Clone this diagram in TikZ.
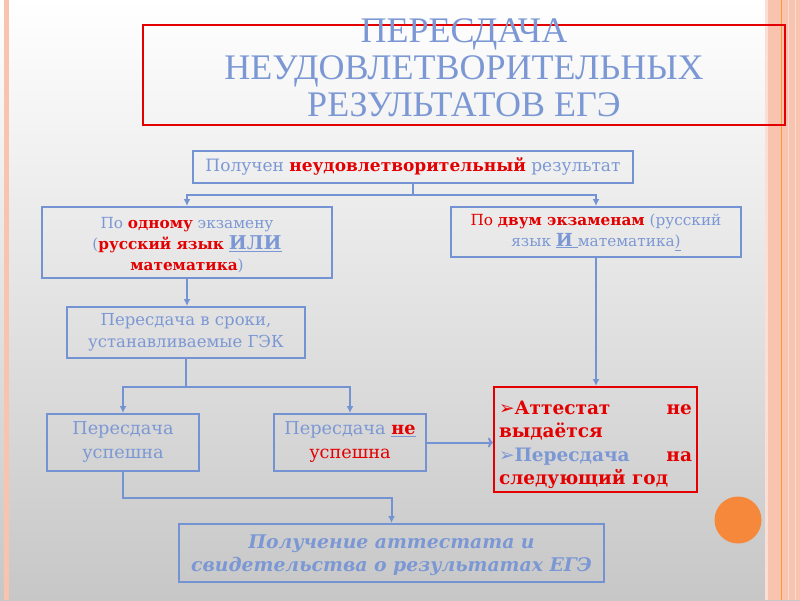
\documentclass[tikz,border=0pt]{standalone}
\usepackage{fontspec}
\setmainfont{DejaVu Serif}
\newfontfamily\headfont{Liberation Serif}
\newfontfamily\symfont{DejaVu Sans}
\usetikzlibrary{arrows.meta,calc}
\definecolor{boxblue}{RGB}{116,147,210}
\definecolor{txtblue}{RGB}{124,152,212}
\definecolor{hotred}{RGB}{228,0,0}
\definecolor{stripe}{RGB}{248,196,176}
\definecolor{dotorange}{RGB}{245,136,58}
\newcommand{\rd}[1]{\textcolor{hotred}{\bfseries #1}}
\setlength{\parindent}{0pt}
\hyphenpenalty=10000
\exhyphenpenalty=10000

\begin{document}
\begin{tikzpicture}[x=1pt,y=-1pt]
  \useasboundingbox (0,0) rectangle (800,600);
  % background and frame stripes
  \shade[top color=white,bottom color=black!22] (0,0) rectangle (800,600);
  \fill[stripe] (4,0) rectangle (9,600);
  \fill[stripe] (765,0) rectangle (800,600);
  \fill[stripe!55] (765,0) rectangle (768,600);
  \draw[orange!80,line width=0.8pt] (781,0) -- (781,600);
  \draw[stripe!60,line width=0.8pt] (788,0) -- (788,600);
  \draw[stripe!60,line width=0.8pt] (795,0) -- (795,600);
  \fill[dotorange] (738,520) circle [radius=23.5];
  % title
  \node[draw=hotred,line width=2pt,minimum width=642pt,minimum height=100pt]
    (frame) at (464,75) {};
  \node[align=center,text=txtblue,font=\headfont\fontsize{36}{37}\selectfont]
    (head) at (464,68) {ПЕРЕСДАЧА\\НЕУДОВЛЕТВОРИТЕЛЬНЫХ\\РЕЗУЛЬТАТОВ ЕГЭ};
  \begin{scope}[
    every node/.style={
      draw=boxblue,
      line width=2pt,
      align=center,
      anchor=center,
      inner sep=0pt,
      text=txtblue,
      font=\fontsize{15.3}{21}\selectfont,
    },
    ]
    \node[minimum width=440pt,minimum height=32pt,font=\fontsize{17}{21}\selectfont]
      (got) at (413,166.5) {Получен \rd{неудовлетворительный} результат};
    \node[minimum width=290pt,minimum height=71pt] (one) at (187,242.5)
      {\rule{0pt}{17pt}По \rd{одному} экзамену\\(\rd{русский язык}
       \underline{\textbf{\fontsize{19}{21}\selectfont ИЛИ}}\\\rd{математика})};
    \node[minimum width=290pt,minimum height=50pt] (two) at (596,232)
      {\textcolor{hotred}{По} \rd{двум экзаменам} (русский\\язык
       \underline{\textbf{\fontsize{18}{21}\selectfont И}\ }математика\underline{)}};
    \node[minimum width=238pt,minimum height=51pt,font=\fontsize{16.5}{22}\selectfont]
      (gek) at (186,332.5) {Пересдача в сроки,\\устанавливаемые ГЭК};
    \node[minimum width=152pt,minimum height=57pt,font=\fontsize{17.7}{24}\selectfont]
      (ok) at (123,442.5) {Пересдача\\успешна};
    \node[minimum width=152pt,minimum height=57pt,font=\fontsize{17.7}{24}\selectfont]
      (fail) at (350,442.5)
      {Пересдача \underline{\rd{не}}\\\textcolor{hotred}{успешна}};
    \node[draw=hotred,minimum width=203pt,minimum height=105pt,
      text width=193pt,align=justify,text=hotred,
      font=\bfseries\fontsize{18.5}{23.5}\selectfont]
      (res) at (595.5,439.5)
      {\rule{0pt}{24pt}{\symfont\mdseries ➢}Аттестат не выдаётся\par
       \textcolor{txtblue}{{\symfont\mdseries ➢}Пересдача} на следующий год};
    \node[minimum width=425pt,minimum height=58pt,
      font=\bfseries\itshape\fontsize{18.8}{23.5}\selectfont]
      (final) at (391.5,553)
      {\rule{0pt}{18pt}Получение аттестата и\\свидетельства о результатах ЕГЭ};
  \end{scope}
  % connectors
  \begin{scope}[
    every path/.style={draw=boxblue,line width=2pt,>={Latex[length=7pt,width=7pt]}},
    ]
    \draw[->] (got.south) -- ++(0,11.5) -| (one.north);
    \draw[->] (got.south) -- ++(0,11.5) -| (two.north);
    \draw[->] (one.south) -- (one.south |- gek.north);
    \draw[->] (gek.south) -- ++(0,27.5) -| (ok.north);
    \draw[->] (gek.south) -- ++(0,27.5) -| (fail.north);
    \draw[->] (two.south) -- (two.south |- res.north);
    \draw[-{To[length=5pt,width=10pt]}] (fail.east) -- (fail.east -| res.west);
    \draw[->] (ok.south) -- ++(0,26) -| (final.north);
  \end{scope}
\end{tikzpicture}
\end{document}
